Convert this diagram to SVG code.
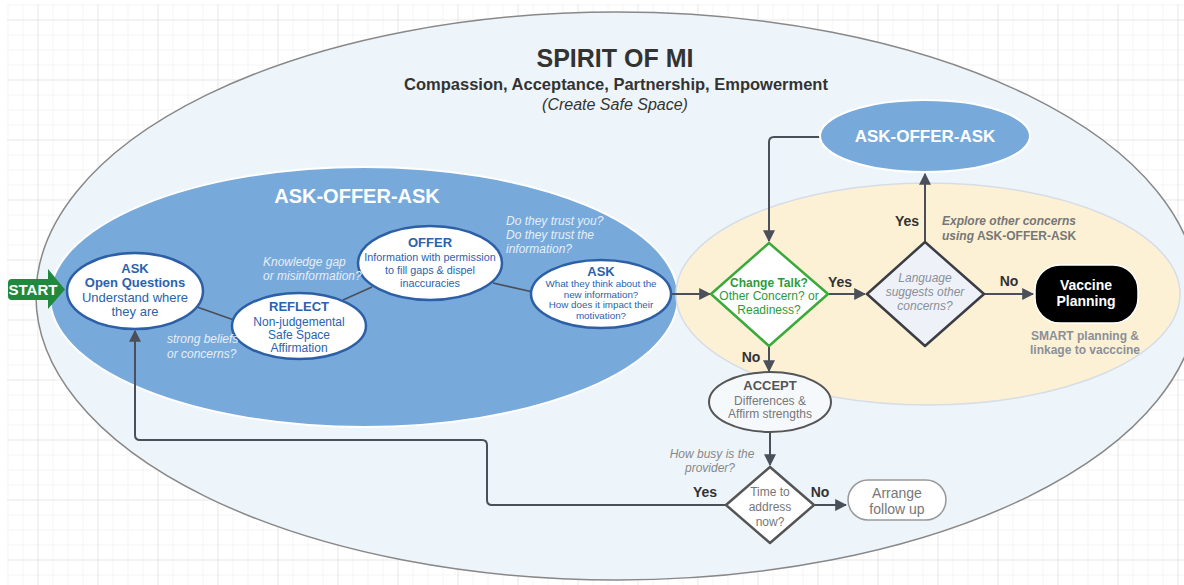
<svg xmlns="http://www.w3.org/2000/svg" width="1184" height="585" viewBox="0 0 1184 585">
<defs>
<pattern id="gridMinor" patternUnits="userSpaceOnUse" x="7.5" y="4.5" width="15" height="15">
<path d="M0 0H15M0 0V15" fill="none" stroke="#ebebeb" stroke-width="1"/>
</pattern>
<pattern id="gridMajor" patternUnits="userSpaceOnUse" x="37.5" y="19.5" width="60" height="60">
<path d="M0 0H60M0 0V60" fill="none" stroke="#dedede" stroke-width="1"/>
</pattern>
<marker id="arrB" viewBox="0 0 10 10" refX="9" refY="5" markerWidth="12" markerHeight="12" markerUnits="userSpaceOnUse" orient="auto">
<path d="M0 0L10 5L0 10z" fill="#4a4f5a"/>
</marker>
</defs>
<style>
text{font-family:"Liberation Sans",Arial,sans-serif;text-anchor:middle}
.st{text-anchor:start}
.conn{fill:none;stroke:#4a4f5a;stroke-width:2}
.thin{fill:none;stroke:#4a4f5a;stroke-width:1.6}
.blueNode{fill:#ffffff;stroke:#2c5fa6;stroke-width:2.5}
.bt{fill:#2c62ad}
.b{font-weight:bold}
.note{fill:#e6eef8;font-size:12px;font-style:italic;text-anchor:start}
.lbl{fill:#333;font-size:14px;font-weight:bold}
</style>
<rect x="0" y="0" width="1184" height="585" fill="#ffffff"/>
<rect x="7" y="4" width="1177" height="581" fill="url(#gridMinor)"/>
<rect x="7" y="4" width="1177" height="581" fill="url(#gridMajor)"/>

<g id="spirit">
<ellipse cx="617" cy="296" rx="581" ry="284" fill="#eef5fa" stroke="#888" stroke-width="1.5"/>
<text x="615" y="67" font-size="25" font-weight="bold" fill="#333">SPIRIT OF MI</text>
<text x="616" y="90" font-size="16.5" font-weight="bold" fill="#333">Compassion, Acceptance, Partnership, Empowerment</text>
<text x="615" y="110" font-size="16" font-style="italic" fill="#333">(Create Safe Space)</text>
</g>

<g id="aoa-region">
<ellipse cx="364" cy="297" rx="314" ry="130" fill="#77aadb" stroke="#ffffff" stroke-width="2"/>
<text x="357" y="203" font-size="20" font-weight="bold" fill="#ffffff">ASK-OFFER-ASK</text>
</g>

<g id="decision-region">
<ellipse cx="928" cy="294" rx="252" ry="111" fill="#fdf1d5" stroke="#d6dde6" stroke-width="1.5"/>
</g>

<g id="connectors">
<line class="thin" x1="197" y1="307" x2="234" y2="320"/>
<line class="thin" x1="343" y1="300" x2="372" y2="287"/>
<line class="thin" x1="493" y1="283" x2="533" y2="292"/>
<path class="conn" d="M672 294H710" marker-end="url(#arrB)"/>
<path class="conn" d="M820 137H774Q769 137 769 142V241" marker-end="url(#arrB)"/>
<path class="conn" d="M828 294H865" marker-end="url(#arrB)"/>
<path class="conn" d="M925 242V174" marker-end="url(#arrB)"/>
<path class="conn" d="M984 294H1033" marker-end="url(#arrB)"/>
<path class="conn" d="M769 346V371" marker-end="url(#arrB)"/>
<path class="conn" d="M770 432V465" marker-end="url(#arrB)"/>
<path class="conn" d="M814 505H846" marker-end="url(#arrB)"/>
<path class="conn" d="M726 505H492Q487 505 487 500V445Q487 440 482 440H140Q135 440 135 435V331" marker-end="url(#arrB)"/>
<text class="lbl" x="840" y="287">Yes</text>
<text class="lbl" x="907" y="226">Yes</text>
<text class="lbl" x="1009" y="286">No</text>
<text class="lbl" x="751" y="362">No</text>
<text class="lbl" x="820" y="497">No</text>
<text class="lbl" x="705" y="497">Yes</text>
<text class="st" x="942" y="225" font-size="12" font-weight="bold" font-style="italic" fill="#777">Explore other concerns</text>
<text class="st" x="942" y="240" font-size="12" font-weight="bold" fill="#777"><tspan font-style="italic">using</tspan> ASK-OFFER-ASK</text>
<text x="712" y="458" font-size="12" font-style="italic" fill="#888">How busy is the</text>
<text x="710" y="472" font-size="12" font-style="italic" fill="#888">provider?</text>
</g>

<g id="start">
<path d="M12 279H48V269L65 289.5L48 309V300H12Q8 300 8 296V283Q8 279 12 279Z" fill="#1f8a3d"/>
<text x="33" y="295" font-size="15" font-weight="bold" fill="#ffffff">START</text>
</g>

<g id="ask-open">
<ellipse class="blueNode" cx="135" cy="291" rx="68" ry="38"/>
<text class="bt b" x="135" y="273" font-size="13">ASK</text>
<text class="bt b" x="135" y="287" font-size="13">Open Questions</text>
<text class="bt" x="135" y="302" font-size="13">Understand where</text>
<text class="bt" x="135" y="316" font-size="13">they are</text>
</g>

<g id="reflect">
<ellipse class="blueNode" cx="299" cy="326" rx="67" ry="33"/>
<text class="bt b" x="299" y="311" font-size="13">REFLECT</text>
<text class="bt" x="299" y="326" font-size="12">Non-judgemental</text>
<text class="bt" x="299" y="339" font-size="12">Safe Space</text>
<text class="bt" x="299" y="352" font-size="12">Affirmation</text>
</g>

<g id="offer">
<ellipse class="blueNode" cx="430" cy="263" rx="72" ry="37"/>
<text class="bt b" x="430" y="247" font-size="13">OFFER</text>
<text class="bt" x="430" y="261" font-size="10.8">Information with permission</text>
<text class="bt" x="430" y="274" font-size="10.8">to fill gaps &amp; dispel</text>
<text class="bt" x="430" y="287" font-size="10.8">inaccuracies</text>
</g>

<g id="ask-right">
<ellipse class="blueNode" cx="601" cy="294" rx="70" ry="34"/>
<text class="bt b" x="601" y="276" font-size="13">ASK</text>
<text class="bt" x="601" y="287" font-size="9.8">What they think about the</text>
<text class="bt" x="601" y="297.5" font-size="9.8">new information?</text>
<text class="bt" x="601" y="308" font-size="9.8">How does it impact their</text>
<text class="bt" x="601" y="318.5" font-size="9.8">motivation?</text>
</g>

<g id="notes">
<text class="note" x="167" y="343">strong beliefs</text>
<text class="note" x="167" y="358">or concerns?</text>
<text class="note" x="263" y="266">Knowledge gap</text>
<text class="note" x="263" y="280">or misinformation?</text>
<text class="note" x="506" y="225">Do they trust you?</text>
<text class="note" x="506" y="239">Do they trust the</text>
<text class="note" x="506" y="253">information?</text>
</g>

<g id="aoa-top">
<ellipse cx="925" cy="136" rx="105" ry="36" fill="#77aadb" stroke="#ffffff" stroke-width="2"/>
<text x="925" y="142" font-size="17" font-weight="bold" fill="#ffffff">ASK-OFFER-ASK</text>
</g>

<g id="change-talk">
<path d="M769 243L828 294L769 346L711 294Z" fill="#ffffff" stroke="#3aaa3a" stroke-width="2.5" stroke-linejoin="round"/>
<text x="769" y="287" font-size="12" font-weight="bold" fill="#2e9a3a">Change Talk?</text>
<text x="769" y="300" font-size="12" fill="#2e9a3a">Other Concern? or</text>
<text x="769" y="314" font-size="12" fill="#2e9a3a">Readiness?</text>
</g>

<g id="language">
<path d="M925 242L984 294L925 346L867 294Z" fill="#eef2f8" stroke="#3a3d44" stroke-width="2.5" stroke-linejoin="round"/>
<text x="925" y="282" font-size="12" font-style="italic" fill="#8a8f98">Language</text>
<text x="925" y="296" font-size="12" font-style="italic" fill="#8a8f98">suggests other</text>
<text x="925" y="310" font-size="12" font-style="italic" fill="#8a8f98">concerns?</text>
</g>

<g id="vaccine">
<rect x="1035" y="265" width="103" height="58" rx="25" fill="#000000" stroke="#ffffff" stroke-width="1.5"/>
<text x="1086" y="290" font-size="14" font-weight="bold" fill="#ffffff">Vaccine</text>
<text x="1086" y="306" font-size="14" font-weight="bold" fill="#ffffff">Planning</text>
<text x="1085" y="340" font-size="12" font-weight="bold" fill="#8a8f98">SMART planning &amp;</text>
<text x="1085" y="354" font-size="12" font-weight="bold" fill="#8a8f98">linkage to vacccine</text>
</g>

<g id="accept">
<ellipse cx="770" cy="402" rx="61" ry="30" fill="#f6f9fc" stroke="#555" stroke-width="2"/>
<text x="770" y="390" font-size="13" font-weight="bold" fill="#555">ACCEPT</text>
<text x="770" y="405" font-size="12" fill="#777">Differences &amp;</text>
<text x="770" y="418" font-size="12" fill="#777">Affirm strengths</text>
</g>

<g id="time">
<path d="M770 467L814 505L770 543L726 505Z" fill="#ffffff" stroke="#555" stroke-width="2.5" stroke-linejoin="round"/>
<text x="770" y="496" font-size="12" fill="#777">Time to</text>
<text x="770" y="511" font-size="12" fill="#777">address</text>
<text x="770" y="526" font-size="12" fill="#777">now?</text>
</g>

<g id="follow-up">
<rect x="848" y="480" width="98" height="40" rx="20" fill="#ffffff" stroke="#999" stroke-width="1.5"/>
<text x="897" y="498" font-size="14" fill="#777">Arrange</text>
<text x="897" y="514" font-size="14" fill="#777">follow up</text>
</g>
</svg>
